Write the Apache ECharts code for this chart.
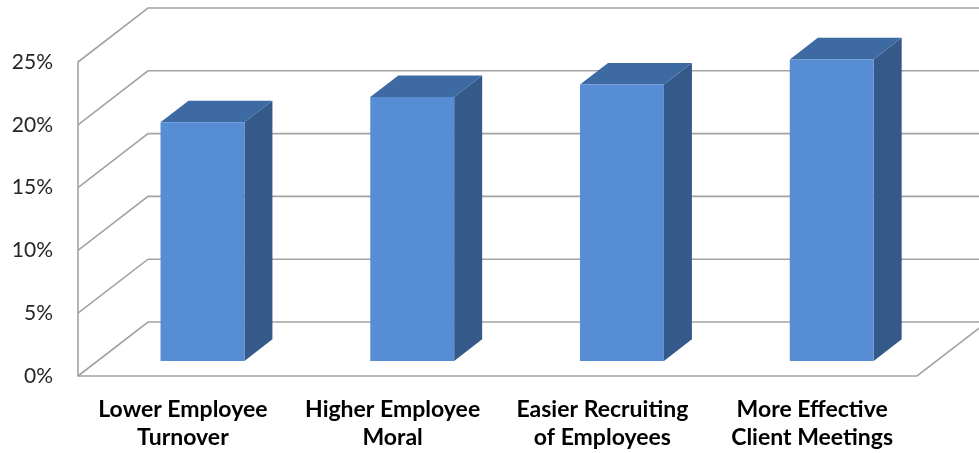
<!DOCTYPE html>
<html>
<head>
<meta charset="utf-8">
<script src="https://cdn.jsdelivr.net/npm/echarts@6/dist/echarts.min.js"></script>
<style>
html,body{margin:0;padding:0;background:#fff;}
#chart{width:979px;height:453px;}
</style>
</head>
<body>
<div id="chart"></div>
<script>
// ---- data ----
var categories = ['Lower Employee\nTurnover', 'Higher Employee\nMoral', 'Easier Recruiting\nof Employees', 'More Effective\nClient Meetings'];
var values = [19, 21, 22, 24];
var tickValues = [0, 5, 10, 15, 20, 25];

// ---- styling constants ----
var DX = 70, DY = -54;          // depth vector of the 3D box
var BAR_FRONT = 0.28;           // bar front position in depth fraction
var BAR_DEPTH = 0.40;           // bar depth fraction
var BAR_W = 0.40;               // bar width fraction of band
var GRID_COLOR = '#A3A3A3';

var chart = echarts.init(document.getElementById('chart'), null, {renderer: 'canvas'});

function wallItem(params, api) {
  var cs = params.coordSys;
  var v = api.value(0);
  var y = api.coord([0, v])[1];
  var x0 = cs.x, x1 = cs.x + cs.width;
  var children = [];
  var style = {stroke: GRID_COLOR, lineWidth: 1.6, fill: null};
  children.push({type: 'polyline', shape: {points: [[x0, y], [x0 + DX, y + DY], [x1 + DX + 40, y + DY]]}, style: style});
  if (v === 0) {
    children.push({type: 'polyline', shape: {points: [[x0, y], [x1, y], [x1 + DX, y + DY]]}, style: style});
  }
  return {type: 'group', children: children};
}

function barItem(params, api) {
  var idx = api.value(0);
  var v = api.value(1);
  var base = api.coord([idx, 0]);
  var top = api.coord([idx, v]);
  var band = api.size([1, 0])[0];
  var w = band * BAR_W;
  var ox = DX * BAR_FRONT, oy = DY * BAR_FRONT;
  var dx = DX * BAR_DEPTH, dy = DY * BAR_DEPTH;
  var L = base[0] - w / 2 + ox, R = L + w;
  var T = top[1] + oy, B = base[1] + oy;
  return {
    type: 'group',
    children: [
      {type: 'polygon', shape: {points: [[R, T], [R + dx, T + dy], [R + dx, B + dy], [R, B]]}, style: {fill: '#355A89'}},
      {type: 'polygon', shape: {points: [[L, T], [R, T], [R + dx, T + dy], [L + dx, T + dy]]}, style: {fill: '#3E6AA3'}},
      {type: 'rect', shape: {x: L, y: T, width: w, height: B - T}, style: {fill: '#568DD5'}}
    ]
  };
}

var option = {
  animation: false,
  backgroundColor: '#ffffff',
  grid: {left: 78, right: 62, top: 62, bottom: 77, containLabel: false},
  xAxis: {
    type: 'category',
    data: categories,
    axisLine: {show: false},
    axisTick: {show: false},
    axisLabel: {
      interval: 0,
      margin: 20,
      fontFamily: 'Lato',
      fontWeight: 'bold',
      fontSize: 23,
      lineHeight: 28,
      color: '#000000'
    }
  },
  yAxis: {
    type: 'value',
    min: 0,
    max: 25,
    interval: 5,
    axisLine: {show: true, lineStyle: {color: GRID_COLOR, width: 1.6}},
    axisTick: {show: false},
    splitLine: {show: false},
    axisLabel: {
      margin: 25,
      fontFamily: 'Lato',
      fontSize: 21,
      color: '#262626',
      formatter: '{value}%'
    }
  },
  series: [
    {
      type: 'custom',
      renderItem: wallItem,
      data: tickValues.map(function (t) { return [t]; }),
      encode: {y: 0},
      z: 1,
      silent: true
    },
    {
      type: 'custom',
      renderItem: barItem,
      data: values.map(function (v, i) { return [i, v]; }),
      encode: {x: 0, y: 1},
      z: 2
    }
  ]
};
chart.setOption(option);
</script>
</body>
</html>
